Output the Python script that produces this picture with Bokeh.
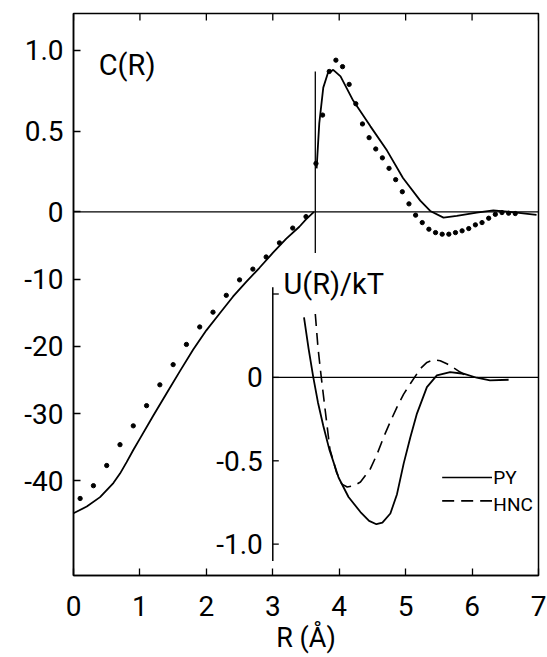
import numpy as np
from bokeh.plotting import figure
from bokeh.models import Range1d, FixedTicker, Span
from bokeh.embed import file_html
from bokeh.resources import INLINE
from bokeh.core.properties import value

# ---------------- data ----------------
# C(R), solid curve, inner branch (R < sigma), coarse scale
R_C_INNER = [0.0, 0.2, 0.4, 0.6, 0.7, 0.8, 0.9, 1.0, 1.2, 1.4, 1.6, 1.8, 2.0, 2.2,
             2.4, 2.6, 2.8, 3.0, 3.2, 3.4, 3.5, 3.62]
C_INNER = [-44.8, -43.8, -42.4, -40.3, -38.9, -37.2, -35.4, -33.7, -30.3, -27.0,
           -23.7, -20.5, -17.6, -15.1, -12.6, -10.4, -8.3, -6.1, -4.0, -2.2, -1.1, 0.0]

# C(R), solid curve, outer branch (R > sigma), fine scale
R_C_OUTER = [3.66, 3.70, 3.76, 3.83, 3.91, 4.02, 4.21, 4.47, 4.72, 4.96, 5.22,
             5.37, 5.57, 5.77, 6.07, 6.32, 6.57, 6.97]
C_OUTER = [0.27, 0.55, 0.77, 0.86, 0.88, 0.84, 0.69, 0.53, 0.38, 0.21, 0.07,
           0.006, -0.035, -0.025, -0.004, 0.01, 0.0, -0.018]

# C(R), dotted series
R_DOT_INNER = [0.1, 0.3, 0.5, 0.7, 0.9, 1.1, 1.3, 1.5, 1.7, 1.9, 2.1, 2.3, 2.5,
               2.7, 2.9, 3.1, 3.3, 3.5]
C_DOT_INNER = [-42.6, -40.7, -37.7, -34.6, -31.8, -28.8, -25.7, -22.7, -19.7,
               -17.1, -14.9, -12.4, -10.1, -8.5, -6.7, -4.6, -2.4, -0.7]
R_DOT_OUTER = [3.65, 3.75, 3.85, 3.95, 4.05, 4.15, 4.25, 4.35, 4.45, 4.55, 4.65,
               4.75, 4.85, 4.95, 5.05, 5.15, 5.25, 5.35, 5.45, 5.55, 5.65, 5.75,
               5.85, 5.95, 6.05, 6.15, 6.25, 6.35, 6.45, 6.55, 6.65]
C_DOT_OUTER = [0.30, 0.60, 0.87, 0.94, 0.90, 0.79, 0.67, 0.545, 0.46, 0.39, 0.335,
               0.27, 0.20, 0.125, 0.05, -0.02, -0.066, -0.107, -0.128, -0.138,
               -0.138, -0.128, -0.117, -0.103, -0.08, -0.066, -0.039, -0.015,
               -0.004, -0.008, -0.01]

# hard-core diameter marker
SIGMA = 3.64
SIGMA_C_LOW = -6.1     # coarse scale
SIGMA_C_HIGH = 0.87    # fine scale

# U(R)/kT inset
R_PY = [3.47, 3.54, 3.61, 3.68, 3.76, 3.85, 3.99, 4.14, 4.32, 4.45, 4.56, 4.65,
        4.77, 4.87, 4.97, 5.07, 5.17, 5.32, 5.47, 5.67, 5.87, 6.07, 6.27, 6.55]
U_PY = [0.36, 0.17, 0.0, -0.15, -0.29, -0.43, -0.60, -0.717, -0.807, -0.86,
        -0.88, -0.87, -0.816, -0.70, -0.517, -0.36, -0.217, -0.058, 0.012, 0.032,
        0.022, -0.002, -0.018, -0.014]
R_HNC = [3.64, 3.68, 3.73, 3.79, 3.86, 3.96, 4.04, 4.12, 4.22, 4.32, 4.47, 4.57,
         4.67, 4.77, 4.87, 4.97, 5.07, 5.22, 5.32, 5.42, 5.52, 5.62, 5.72, 5.82,
         5.97]
U_HNC = [0.38, 0.18, 0.0, -0.2, -0.43, -0.57, -0.64, -0.657, -0.65, -0.627,
         -0.547, -0.46, -0.357, -0.265, -0.178, -0.10, -0.038, 0.052, 0.09,
         0.106, 0.10, 0.082, 0.058, 0.032, -0.002]

X_TICKS = [0, 1, 2, 3, 4, 5, 6, 7]
C_TICKS_FINE = [1.0, 0.5]
C_TICKS_COARSE = [0, -10, -20, -30, -40]
C_TICK_LABELS = ["1.0", "0.5", "0", "-10", "-20", "-30", "-40"]
U_TICKS = [0.5, 0.0, -0.5, -1.0]
U_LABEL_TICKS = [0.0, -0.5, -1.0]
U_TICK_LABELS = ["0", "-0.5", "-1.0"]
INSET_R = 3.0
INSET_U_RANGE = (-1.1, 0.54)

# ---------------- scales ----------------
FINE = 24.0          # display units per unit of C on the fine (R > sigma) scale
U_ZERO = -24.6       # display position of U = 0
U_SCALE = 24.8       # display units per unit of U
Y_LO, Y_HI = -54.05, 29.5


def coarse(c):
    return np.asarray(c, dtype=float)


def fine(c):
    return np.asarray(c, dtype=float) * FINE


def uy(u):
    return U_ZERO + np.asarray(u, dtype=float) * U_SCALE


FONT = "Roboto"
BLACK = "black"

p = figure(width=547, height=657, x_range=Range1d(0, 7), y_range=Range1d(Y_LO, Y_HI),
           output_backend="svg", toolbar_location=None,
           min_border_left=73, min_border_right=9, min_border_top=13, min_border_bottom=82)
p.xgrid.visible = False
p.ygrid.visible = False
p.outline_line_color = BLACK
p.outline_line_width = 1.5
p.background_fill_color = "white"
p.border_fill_color = "white"

# bottom axis
xa = p.xaxis[0]
xa.ticker = FixedTicker(ticks=X_TICKS)
xa.major_tick_in = 7
xa.major_tick_out = 0
xa.minor_tick_in = 0
xa.minor_tick_out = 0
xa.axis_line_width = 1.5
xa.major_tick_line_width = 1.3
xa.major_tick_line_color = BLACK
xa.axis_line_color = BLACK
xa.major_label_text_font = FONT
xa.major_label_text_font_size = "28px"
xa.major_label_text_color = BLACK
xa.major_label_standoff = 20
xa.axis_label = "R (Å)"
xa.axis_label_text_font = FONT
xa.axis_label_text_font_size = "27px"
xa.axis_label_text_font_style = "normal"
xa.axis_label_text_color = BLACK
xa.axis_label_standoff = 3

# left axis with two scales
y_tick_pos = list(fine(C_TICKS_FINE)) + list(coarse(C_TICKS_COARSE))
ya = p.yaxis[0]
ya.ticker = FixedTicker(ticks=y_tick_pos)
ya.major_label_overrides = {float(t): lab for t, lab in zip(y_tick_pos, C_TICK_LABELS)}
ya.major_tick_in = 7
ya.major_tick_out = 0
ya.minor_tick_in = 0
ya.minor_tick_out = 0
ya.axis_line_width = 1.5
ya.major_tick_line_width = 1.3
ya.major_tick_line_color = BLACK
ya.axis_line_color = BLACK
ya.major_label_text_font = FONT
ya.major_label_text_font_size = "28px"
ya.major_label_text_color = BLACK
ya.major_label_standoff = 10
ya.major_label_orientation = "horizontal"

# top frame ticks (no labels)
p.ray(x=X_TICKS, y=[Y_HI] * len(X_TICKS), length=7, length_units="screen",
      angle=-np.pi / 2, line_color=BLACK, line_width=1.3)

# zero line of C(R)
p.add_layout(Span(location=0, dimension="width", line_color=BLACK, line_width=1.2))

# sigma marker
p.segment(x0=[SIGMA], y0=[float(coarse(SIGMA_C_LOW))], x1=[SIGMA],
          y1=[float(fine(SIGMA_C_HIGH))], line_color=BLACK, line_width=1.3)

# C(R) curves
p.line(R_C_INNER, coarse(C_INNER), line_color=BLACK, line_width=1.8)
p.line(R_C_OUTER, fine(C_OUTER), line_color=BLACK, line_width=1.8)
p.scatter(R_DOT_INNER, coarse(C_DOT_INNER), size=4.3, color=BLACK)
p.scatter(R_DOT_OUTER, fine(C_DOT_OUTER), size=4.3, color=BLACK)

p.text(x=[0.38], y=[float(fine(0.91))], text=["C(R)"], text_font=value(FONT),
       text_font_size="29px", text_align="left", text_baseline="middle", text_color=BLACK)

# ---------------- inset ----------------
p.segment(x0=[INSET_R], y0=[float(uy(INSET_U_RANGE[0]))], x1=[INSET_R],
          y1=[float(uy(INSET_U_RANGE[1]))], line_color=BLACK, line_width=1.5)
p.ray(x=[INSET_R] * len(U_TICKS), y=uy(U_TICKS), length=6, length_units="screen",
      angle=0, line_color=BLACK, line_width=1.3)
p.text(x=[INSET_R] * len(U_LABEL_TICKS), y=uy(U_LABEL_TICKS), text=U_TICK_LABELS,
       x_offset=-10, text_align="right", text_baseline="middle",
       text_font=value(FONT), text_font_size="28px", text_color=BLACK)
p.segment(x0=[INSET_R], y0=[float(uy(0))], x1=[7], y1=[float(uy(0))],
          line_color=BLACK, line_width=1.2)

p.line(R_PY, uy(U_PY), line_color=BLACK, line_width=1.8)
p.line(R_HNC, uy(U_HNC), line_color=BLACK, line_width=1.6, line_dash="12 7")

p.text(x=[3.16], y=[float(uy(0.56))], text=["U(R)/kT"], text_font=value(FONT),
       text_font_size="29px", text_align="left", text_baseline="middle", text_color=BLACK)

# legend drawn in the inset
p.segment(x0=[5.55], y0=[float(uy(-0.60))], x1=[6.30], y1=[float(uy(-0.60))],
          line_color=BLACK, line_width=1.6)
p.segment(x0=[5.55], y0=[float(uy(-0.74))], x1=[6.30], y1=[float(uy(-0.74))],
          line_color=BLACK, line_width=1.6, line_dash="12 7")
p.text(x=[6.32, 6.32], y=uy([-0.60, -0.76]), text=["PY", "HNC"], text_font=value(FONT),
       text_font_size="19px", text_align="left", text_baseline="middle", text_color=BLACK)

open("out.html", "w").write(file_html(p, INLINE))
